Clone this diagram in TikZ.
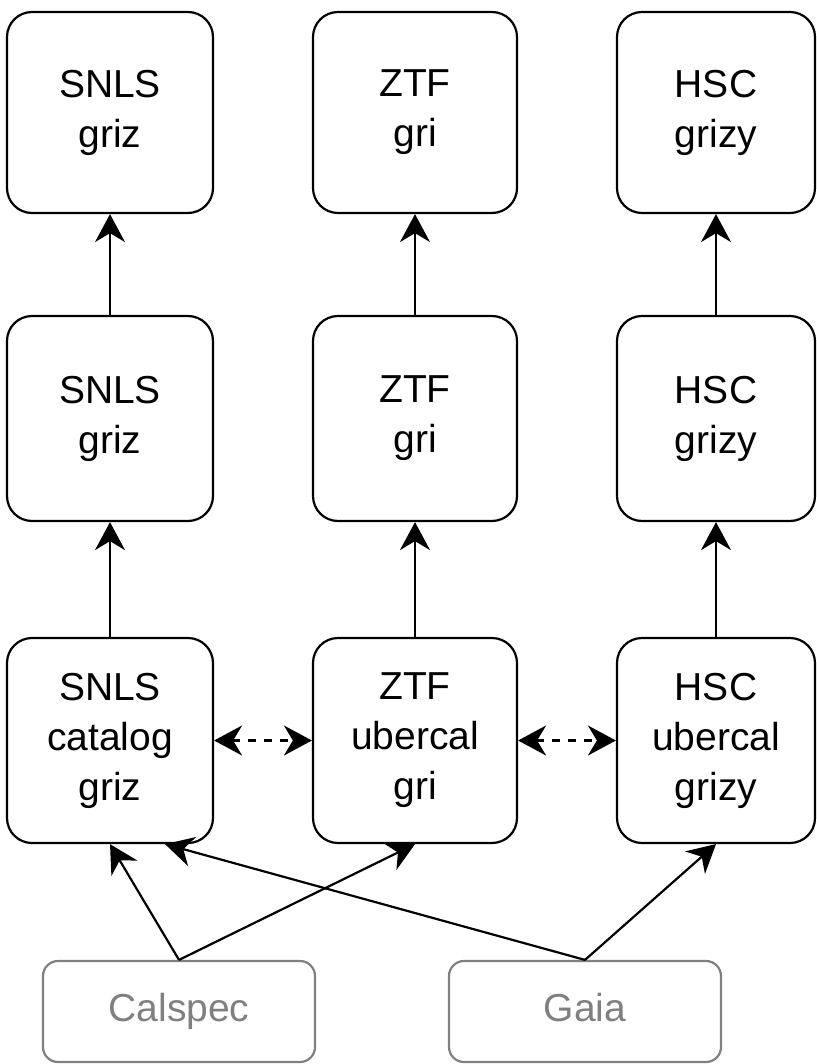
\documentclass[tikz,border=0pt]{standalone}
\usepackage{fontspec}
\setmainfont{Liberation Sans}
\usetikzlibrary{arrows.meta}
\definecolor{refgray}{HTML}{808080}
\tikzset{
  survey/.style={draw, line width=1.1pt, rounded corners=12.5pt, minimum width=103pt,
    minimum height=102.5pt, inner sep=0pt, align=center, font=\fontsize{19.5}{25}\selectfont},
  calib/.style={survey, draw=refgray, text=refgray, rounded corners=7.5pt,
    minimum width=136pt, minimum height=50.5pt, execute at begin node=\strut},
  link/.style={line width=1.1pt, -{Stealth[length=14pt,width=15pt,inset=4.5pt]}},
  xlink/.style={line width=1.1pt, dash pattern=on 4pt off 4pt,
    {Stealth[length=14pt,width=15pt,inset=4.5pt]}-{Stealth[length=14pt,width=15pt,inset=4.5pt]}}
}
\begin{document}
\begin{tikzpicture}[x=0.5pt,y=-0.5pt]
  \useasboundingbox (0,0) rectangle (817,1064);
  \node[survey,minimum height=100.5pt] (snls1) at (110,112.5) {SNLS\\griz};
  \node[survey,minimum width=102pt,minimum height=100.5pt] (ztf1) at (415,112.5) {ZTF\\gri};
  \node[survey,minimum width=99pt,minimum height=100.5pt] (hsc1) at (716,112.5) {HSC\\grizy};
  \node[survey] (snls2) at (110,418.5) {SNLS\\griz};
  \node[survey,minimum width=102pt] (ztf2) at (415,418.5) {ZTF\\gri};
  \node[survey,minimum width=99pt] (hsc2) at (716,418.5) {HSC\\grizy};
  \node[survey] (snlscat) at (110,740.5) {SNLS\\catalog\\griz};
  \node[survey,minimum width=102pt] (ztfuber) at (415,740.5) {ZTF\\ubercal\\gri};
  \node[survey,minimum width=99pt] (hscuber) at (716,740.5) {HSC\\ubercal\\grizy};
  \node[calib] (calspec) at (179,1011.5) {Calspec};
  \node[calib] (gaia) at (585,1011.5) {Gaia};
  \draw[link] (snls2) -- (snls1);
  \draw[link] (ztf2) -- (ztf1);
  \draw[link] (hsc2) -- (hsc1);
  \draw[link] (snlscat) -- (snls2);
  \draw[link] (ztfuber) -- (ztf2);
  \draw[link] (hscuber) -- (hsc2);
  \draw[xlink] (snlscat) -- (ztfuber);
  \draw[xlink] (ztfuber) -- (hscuber);
  \draw[link] (calspec.north) -- (snlscat.south);
  \draw[link] (calspec.north) -- (ztfuber.south);
  \draw[link] (gaia.north) -- ([xshift=27.5pt]snlscat.south);
  \draw[link] (gaia.north) -- (hscuber.south);
\end{tikzpicture}
\end{document}
